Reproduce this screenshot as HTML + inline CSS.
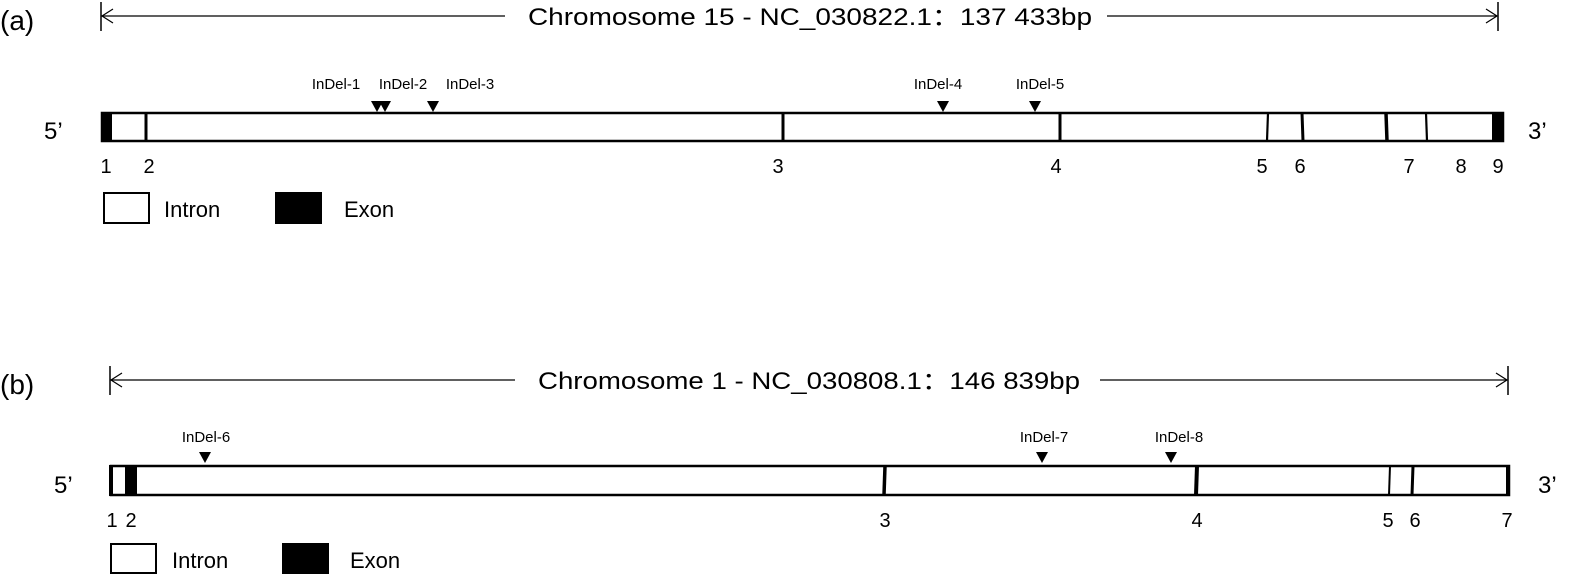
<!DOCTYPE html>
<html><head><meta charset="utf-8"><style>
html,body{margin:0;padding:0;background:#fff;width:1585px;height:574px;overflow:hidden;}
svg{display:block;font-family:"Liberation Sans",Arial,sans-serif;}
</style></head><body>
<svg width="1585" height="574" viewBox="0 0 1585 574" xmlns="http://www.w3.org/2000/svg">
<!-- (a) -->
<text x="0" y="30" font-size="28">(a)</text>
<line x1="101" y1="2" x2="101" y2="31" stroke="#000" stroke-width="1.5"/>
<line x1="1498" y1="2" x2="1498" y2="31" stroke="#000" stroke-width="1.5"/>
<line x1="101" y1="16" x2="505" y2="16" stroke="#000" stroke-width="1.2"/>
<polyline points="113,9 102,16 113,23" fill="none" stroke="#000" stroke-width="1.2"/>
<line x1="1107" y1="16" x2="1497" y2="16" stroke="#000" stroke-width="1.2"/>
<polyline points="1486,9 1497,16 1486,23" fill="none" stroke="#000" stroke-width="1.2"/>
<text x="528" y="25" font-size="24" textLength="564" lengthAdjust="spacingAndGlyphs">Chromosome 15 - NC_030822.1：137 433bp</text>

<text x="44" y="139" font-size="24">5’</text>
<text x="1528" y="139" font-size="24">3’</text>
<rect x="102" y="113" width="1401" height="28" fill="#fff" stroke="#000" stroke-width="2.5"/>
<rect x="101" y="112" width="11" height="30" fill="#000"/>
<rect x="1492" y="112" width="12" height="30" fill="#000"/>
<g stroke="#000" stroke-width="3">
<line x1="146" y1="113" x2="146" y2="141"/>
<line x1="783" y1="113" x2="783" y2="141"/>
<line x1="1060" y1="113" x2="1060" y2="141"/>
<line x1="1268" y1="113" x2="1267" y2="141" stroke-width="2.2"/>
<line x1="1302" y1="113" x2="1303" y2="141"/>
<line x1="1386" y1="113" x2="1387" y2="141" stroke-width="3.5"/>
<line x1="1426" y1="113" x2="1427" y2="141" stroke-width="2.2"/>
</g>
<g font-size="20" text-anchor="middle">
<text x="106" y="173">1</text><text x="149" y="173">2</text><text x="778" y="173">3</text>
<text x="1056" y="173">4</text><text x="1262" y="173">5</text><text x="1300" y="173">6</text>
<text x="1409" y="173">7</text><text x="1461" y="173">8</text><text x="1498" y="173">9</text>
</g>
<g fill="#000">
<polygon points="371,101 383,101 377,112"/><polygon points="379,101 391,101 385,112"/>
<polygon points="427,101 439,101 433,112"/><polygon points="937,101 949,101 943,112"/>
<polygon points="1029,101 1041,101 1035,112"/>
</g>
<g font-size="15" text-anchor="middle">
<text x="336" y="89">InDel-1</text><text x="403" y="89">InDel-2</text><text x="470" y="89">InDel-3</text>
<text x="938" y="89">InDel-4</text><text x="1040" y="89">InDel-5</text>
</g>
<rect x="104" y="193" width="45" height="30" fill="#fff" stroke="#000" stroke-width="2"/>
<text x="164" y="217" font-size="22">Intron</text>
<rect x="275" y="192" width="47" height="32" fill="#000"/>
<text x="344" y="217" font-size="22">Exon</text>

<!-- (b) -->
<text x="0" y="394" font-size="28">(b)</text>
<line x1="110" y1="366" x2="110" y2="395" stroke="#000" stroke-width="1.5"/>
<line x1="1508" y1="366" x2="1508" y2="395" stroke="#000" stroke-width="1.5"/>
<line x1="110" y1="380" x2="515" y2="380" stroke="#000" stroke-width="1.2"/>
<polyline points="122,373 111,380 122,387" fill="none" stroke="#000" stroke-width="1.2"/>
<line x1="1100" y1="380" x2="1507" y2="380" stroke="#000" stroke-width="1.2"/>
<polyline points="1496,373 1507,380 1496,387" fill="none" stroke="#000" stroke-width="1.2"/>
<text x="538" y="389" font-size="24" textLength="542" lengthAdjust="spacingAndGlyphs">Chromosome 1 - NC_030808.1：146 839bp</text>

<text x="54" y="493" font-size="24">5’</text>
<text x="1538" y="493" font-size="24">3’</text>
<rect x="111" y="466" width="1398" height="29" fill="#fff" stroke="#000" stroke-width="2.5"/>
<rect x="109" y="465" width="4" height="31" fill="#000"/>
<rect x="125" y="465" width="12" height="31" fill="#000"/>
<g stroke="#000" stroke-width="3">
<line x1="885" y1="466" x2="884" y2="495" stroke-width="3.5"/>
<line x1="1197" y1="466" x2="1196" y2="495" stroke-width="4"/>
<line x1="1390" y1="466" x2="1389" y2="495" stroke-width="2"/>
<line x1="1413" y1="466" x2="1412" y2="495"/>
<line x1="1508" y1="465" x2="1508" y2="496" stroke-width="4"/>
</g>
<g font-size="20" text-anchor="middle">
<text x="112" y="527">1</text><text x="131" y="527">2</text><text x="885" y="527">3</text>
<text x="1197" y="527">4</text><text x="1388" y="527">5</text><text x="1415" y="527">6</text>
<text x="1507" y="527">7</text>
</g>
<g fill="#000">
<polygon points="199,452 211,452 205,463"/><polygon points="1036,452 1048,452 1042,463"/>
<polygon points="1165,452 1177,452 1171,463"/>
</g>
<g font-size="15" text-anchor="middle">
<text x="206" y="442">InDel-6</text><text x="1044" y="442">InDel-7</text><text x="1179" y="442">InDel-8</text>
</g>
<rect x="111" y="544" width="45" height="29" fill="#fff" stroke="#000" stroke-width="2"/>
<text x="172" y="568" font-size="22">Intron</text>
<rect x="282" y="543" width="47" height="31" fill="#000"/>
<text x="350" y="568" font-size="22">Exon</text>
</svg>
</body></html>
